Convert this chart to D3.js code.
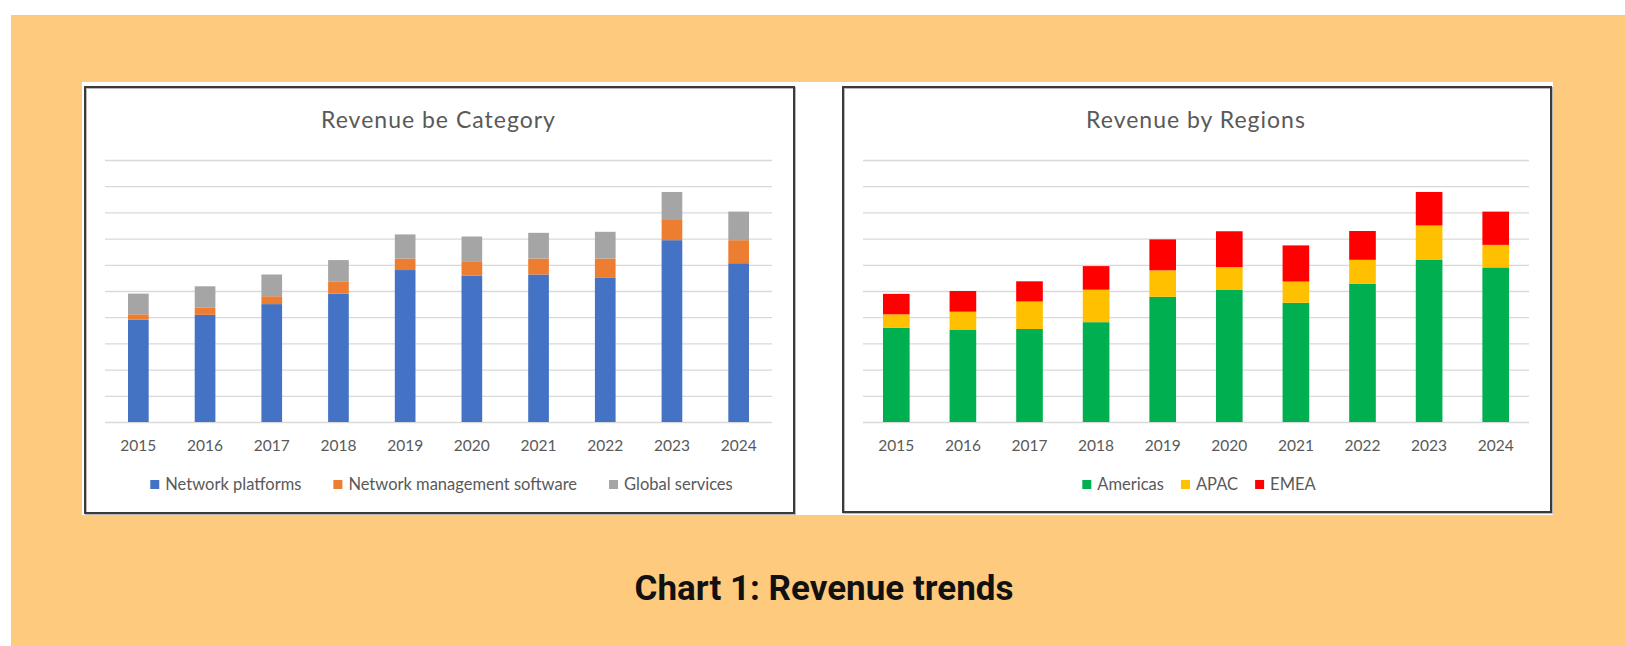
<!DOCTYPE html>
<html>
<head>
<meta charset="utf-8">
<script src="https://cdn.jsdelivr.net/npm/d3@7"></script>
<style>
  body { margin: 0; background: #ffffff; }
  .grid line { stroke: #d9d9d9; stroke-width: 1.3px; }
  .grid .domain { display: none; }
  .chartTitle { font-family: Lato, sans-serif; fill: #595959; }
  .x.axis text { font-family: Lato, sans-serif; fill: #595959; }
  .legend text { font-family: Lato, sans-serif; fill: #595959; }
</style>
</head>
<body>
<script>
// years on the x axis
var years = ["2015", "2016", "2017", "2018", "2019", "2020", "2021", "2022", "2023", "2024"];

// revenue by category (in gridline units, y axis is hidden)
var categoryNames = ["Network platforms", "Network management software", "Global services"];
var platformVals = [3.91, 4.09, 4.50, 4.90, 5.80, 5.59, 5.63, 5.52, 6.94, 6.06];
var softwareVals = [0.20, 0.27, 0.30, 0.45, 0.44, 0.52, 0.61, 0.72, 0.77, 0.88];
var servicesVals = [0.79, 0.82, 0.83, 0.83, 0.92, 0.97, 0.98, 1.02, 1.07, 1.09];
var categoryColors = ["#4472c4", "#ed7d31", "#a5a5a5"];

// revenue by region
var regionNames = ["Americas", "APAC", "EMEA"];
var americasVals = [3.60, 3.53, 3.55, 3.81, 4.78, 5.04, 4.55, 5.27, 6.20, 5.90];
var apacVals = [0.51, 0.68, 1.05, 1.24, 1.01, 0.87, 0.81, 0.92, 1.30, 0.86];
var emeaVals = [0.78, 0.79, 0.77, 0.90, 1.18, 1.37, 1.38, 1.10, 1.28, 1.27];
var regionColors = ["#00b050", "#ffc000", "#ff0000"];

var yTicks = [0, 1, 2, 3, 4, 5, 6, 7, 8, 9, 10];

var svg = d3.select("body").append("svg")
    .attr("width", 1625)
    .attr("height", 646);

// orange page background
svg.append("rect")
    .attr("x", 11).attr("y", 15)
    .attr("width", 1614).attr("height", 631)
    .style("fill", "#fecb7e");

// white strip holding both charts
svg.append("rect")
    .attr("x", 82).attr("y", 82)
    .attr("width", 1471).attr("height", 433)
    .style("fill", "#ffffff");

function panelFrame(x, y, w, h){
  svg.append("rect")
      .attr("x", x + 1).attr("y", y + 1)
      .attr("width", w).attr("height", h)
      .style("fill", "none")
      .style("stroke", "#b8b8b8")
      .style("stroke-width", 2);
  svg.append("rect")
      .attr("x", x).attr("y", y)
      .attr("width", w).attr("height", h)
      .style("fill", "none")
      .style("stroke", "#3a3a3a")
      .style("stroke-width", 2);
}

function stackedChart(box, title, names, seriesVals, colors, padInner, legendGap){
  var width = box.x1 - box.x0;
  var height = box.y1 - box.y0;
  var g = svg.append("g")
      .attr("transform", "translate(" + box.x0 + "," + box.y0 + ")");

  var rows = years.map(function(y, i){
    var row = { year: y };
    names.forEach(function(n, k){ row[n] = seriesVals[k][i]; });
    return row;
  });

  var xScale = d3.scaleBand()
    .domain(years)
    .range([0, width])
    .paddingInner(padInner)
    .paddingOuter(padInner / 2);

  var yScale = d3.scaleLinear()
    .domain([0, 10])
    .range([height, 0]);

  //gridlines
  var yAxis = d3.axisLeft().scale(yScale).tickValues(yTicks)
    .tickSize(-width).tickFormat("");
  g.append("g")
      .attr("class", "grid")
      .call(yAxis);

  //bars
  var stacked = d3.stack().keys(names)(rows);
  g.selectAll("g.layer")
      .data(stacked)
    .enter().append("g")
      .attr("class", "layer")
      .style("fill", function(d, i){ return colors[i]; })
    .selectAll("rect")
      .data(function(d){ return d; })
    .enter().append("rect")
      .attr("x", function(d){ return xScale(d.data.year); })
      .attr("width", xScale.bandwidth())
      .attr("y", function(d){ return yScale(d[1]); })
      .attr("height", function(d){ return yScale(d[0]) - yScale(d[1]); });

  //x axis
  var xAxis = d3.axisBottom().scale(xScale).tickSize(0).tickPadding(0);
  var xG = g.append("g")
      .attr("class", "x axis")
      .attr("transform", "translate(0," + (height + 29) + ")")
      .call(xAxis);
  xG.select(".domain").remove();
  xG.selectAll("text")
      .attr("dy", 0)
      .style("font-size", "15.5px");

  //title
  g.append("text")
      .attr("class", "chartTitle")
      .attr("x", width / 2)
      .attr("y", -32)
      .style("text-anchor", "middle")
      .style("font-size", "23px")
      .style("letter-spacing", "1px")
      .text(title);

  //legend
  var legend = g.append("g")
      .attr("class", "legend")
      .attr("transform", "translate(0," + (height + 68) + ")");
  var items = legend.selectAll("g")
      .data(names)
    .enter().append("g");
  items.append("rect")
      .attr("y", -10)
      .attr("width", 9)
      .attr("height", 9)
      .style("fill", function(d, i){ return colors[i]; });
  items.append("text")
      .attr("x", 15)
      .attr("y", 0)
      .style("font-size", "16.5px")
      .text(function(d){ return d; });

  var offsets = [];
  var total = 0;
  items.each(function(){
    var w = 15 + d3.select(this).select("text").node().getComputedTextLength();
    offsets.push(total);
    total += w + legendGap;
  });
  total -= legendGap;
  var start = width / 2 - total / 2 + 3;
  items.attr("transform", function(d, i){
    return "translate(" + (start + offsets[i]) + ",0)";
  });
}

panelFrame(85, 87, 709, 426);
panelFrame(843, 87, 708, 425);

stackedChart({x0: 105, x1: 772, y0: 160, y1: 422},
  "Revenue be Category", categoryNames,
  [platformVals, softwareVals, servicesVals], categoryColors, 0.69, 32);

stackedChart({x0: 863, x1: 1529, y0: 160, y1: 422},
  "Revenue by Regions", regionNames,
  [americasVals, apacVals, emeaVals], regionColors, 0.6, 17);

// caption
svg.append("text")
    .attr("x", 824)
    .attr("y", 600)
    .style("text-anchor", "middle")
    .style("font-family", "Roboto, sans-serif")
    .style("font-weight", "bold")
    .style("font-size", "35px")
    .style("fill", "#111111")
    .text("Chart 1: Revenue trends");
</script>
</body>
</html>
